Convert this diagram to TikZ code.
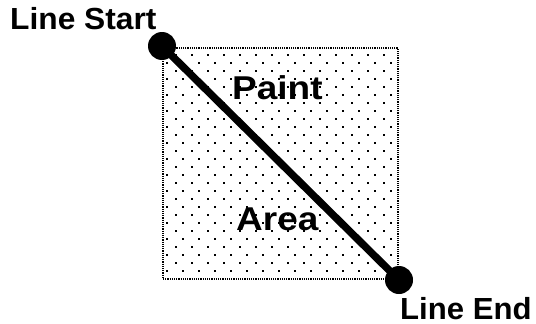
\documentclass[tikz,border=0pt]{standalone}
\usepackage{fontspec}
\setmainfont{Liberation Sans}
\begin{document}
\begin{tikzpicture}[x=1pt, y=-1pt,
		knob/.style={circle, fill=black, inner sep=0pt, minimum size=28},
		lbl/.style={font=\bfseries\fontsize{30.5}{36}\selectfont, inner sep=0pt, anchor=base west},
		big/.style={lbl, font=\bfseries\fontsize{33}{40}\selectfont}]
			\useasboundingbox (0,0) rectangle (536,324);

			% Точечная заливка области
			\begin{scope}
				\clip (163,48) rectangle (398,279);
				\foreach \j in {0,...,27} {
					\pgfmathsetmacro{\y}{55+8*\j}
					\pgfmathsetmacro{\xo}{isodd(\j) ? 167 : 176}
					\foreach \i in {0,...,14}
						\fill ({\xo+16*\i-1},{\y-1}) rectangle ({\xo+16*\i+1},{\y+1});
				}
			\end{scope}
			\draw[densely dotted, line width=1.2] (163,48) rectangle (398,279);

			% Подписи области
			\node[big] (paint) at (232,99) {\scalebox{1.12}[1]{Paint}};
			\node[big] (area) at (236,230) {\scalebox{1.12}[1]{Area}};

			% Линия
			\node[knob] (start) at (162,46) {};
			\node[knob] (stop) at (399,280) {};
			\draw[line width=7.5] (start.center) -- (stop.center);

			\node[lbl] (lstart) at (10,30) {\scalebox{1.04}[1]{Line Start}};
			\node[lbl] (lend) at (400,319) {\scalebox{1.02}[1]{Line End}};
		\end{tikzpicture}
\end{document}
